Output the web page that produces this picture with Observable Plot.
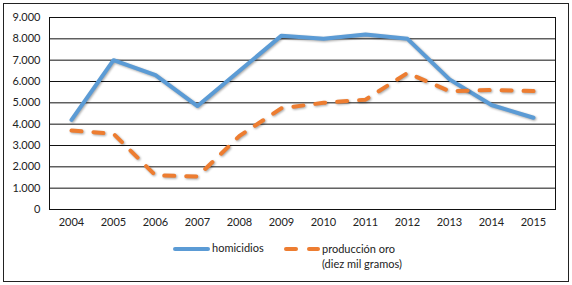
<!DOCTYPE html>
<html>
<head>
<meta charset="utf-8">
<script src="https://cdn.jsdelivr.net/npm/d3@7"></script>
<script src="https://cdn.jsdelivr.net/npm/@observablehq/plot@0.6"></script>
<style>
  html, body { margin: 0; padding: 0; background: #fff; }
  body { width: 572px; height: 285px; position: relative; overflow: hidden; font-family: Lato, "Open Sans", sans-serif; }
  #border { position: absolute; left: 3px; top: 3px; width: 564px; height: 277px; border: 1.5px solid #222; box-sizing: content-box; }
  #chart { position: absolute; left: 0; top: 0; }
  #legend { position: absolute; left: 0; top: 240px; width: 572px; height: 40px; font-size: 11px; color: #222; }
  .item { position: absolute; }
  .sw { position: absolute; height: 4px; border-radius: 2px; }
</style>
</head>
<body>
<div id="border"></div>
<div id="chart"></div>
<div id="legend">
  <div class="sw" style="left:173px; top:7px; width:37px; background:#5B9BD5;"></div>
  <div class="item" style="left:212px; top:1px;">homicidios</div>
  <div class="sw" style="left:284px; top:7px; width:14px; background:#ED7D31;"></div>
  <div class="sw" style="left:307px; top:7px; width:13px; background:#ED7D31;"></div>
  <div class="item" style="left:322px; top:1px; line-height:15px;">producción oro<br>(diez mil gramos)</div>
</div>
<script>
const years = [2004, 2005, 2006, 2007, 2008, 2009, 2010, 2011, 2012, 2013, 2014, 2015];
const homicidios = [4200, 7000, 6300, 4850, 6500, 8150, 8000, 8200, 8000, 6100, 4900, 4300];
const produccionOro = [3700, 3550, 1600, 1550, 3450, 4750, 5000, 5150, 6400, 5550, 5600, 5550];
const yTicks = [0, 1000, 2000, 3000, 4000, 5000, 6000, 7000, 8000, 9000];

const rowsH = years.map((y, i) => ({year: String(y), value: homicidios[i]}));
const rowsO = years.map((y, i) => ({year: String(y), value: produccionOro[i]}));
const fmt = d => d3.format(",")(d).replace(/,/g, ".");

const chart = Plot.plot({
  width: 572,
  height: 240,
  marginLeft: 49,
  marginRight: 17,
  marginTop: 17,
  marginBottom: 31,
  style: {fontFamily: "Lato, 'Open Sans', sans-serif", fontSize: "11px", color: "#222", background: "transparent"},
  x: {type: "point", domain: years.map(String), padding: 0.5, label: null},
  y: {domain: [0, 9000], ticks: yTicks, label: null},
  marks: [
    Plot.gridY(yTicks, {stroke: "#111", strokeOpacity: 1, strokeWidth: 1}),
    Plot.frame({stroke: "#111", strokeWidth: 1}),
    Plot.axisY({ticks: yTicks, tickSize: 0, tickPadding: 9, tickFormat: fmt, fontSize: 11}),
    Plot.axisX({tickSize: 0, tickPadding: 9, fontSize: 11}),
    Plot.line(rowsH, {x: "year", y: "value", stroke: "#5B9BD5", strokeWidth: 4, strokeLinejoin: "round", strokeLinecap: "round"}),
    Plot.line(rowsO, {x: "year", y: "value", stroke: "#ED7D31", strokeWidth: 4, strokeDasharray: "10,12", strokeLinecap: "round", strokeLinejoin: "round"})
  ]
});
chart.querySelectorAll('g[aria-label="line"] path').forEach(p => {
  p.style.filter = "drop-shadow(1px 1.5px 1px rgba(0,0,0,0.35))";
});
document.getElementById("chart").appendChild(chart);
</script>
</body>
</html>
